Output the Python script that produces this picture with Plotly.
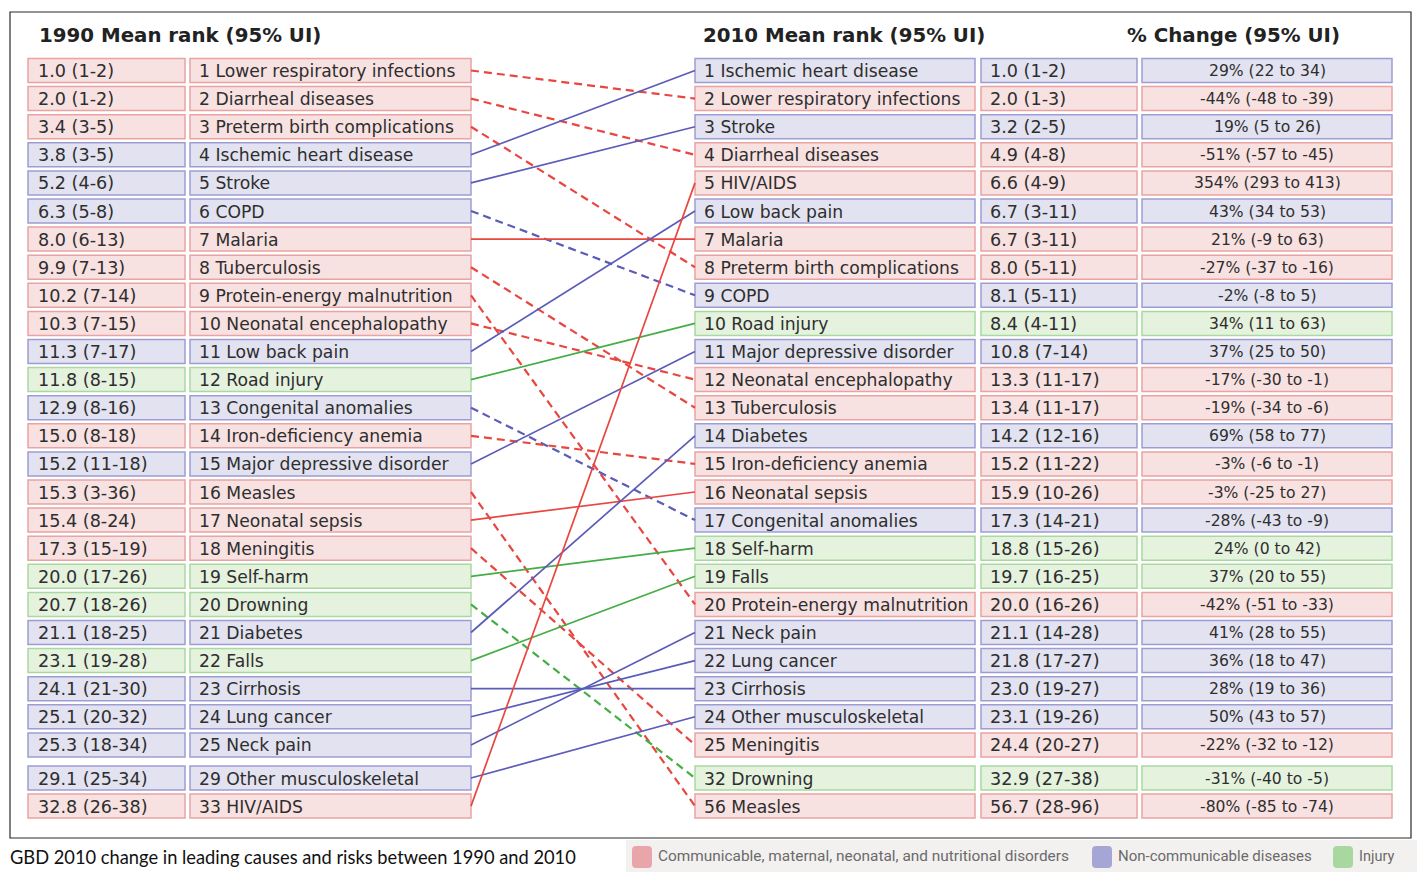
import plotly.graph_objects as go

# ---- data -------------------------------------------------------------
rank_1990 = [1, 2, 3, 4, 5, 6, 7, 8, 9, 10, 11, 12, 13, 14, 15, 16, 17, 18, 19, 20,
             21, 22, 23, 24, 25, 29, 33]
causes_1990 = ["Lower respiratory infections", "Diarrheal diseases", "Preterm birth complications",
               "Ischemic heart disease", "Stroke", "COPD", "Malaria", "Tuberculosis",
               "Protein-energy malnutrition", "Neonatal encephalopathy", "Low back pain",
               "Road injury", "Congenital anomalies", "Iron-deficiency anemia",
               "Major depressive disorder", "Measles", "Neonatal sepsis", "Meningitis",
               "Self-harm", "Drowning", "Diabetes", "Falls", "Cirrhosis", "Lung cancer",
               "Neck pain", "Other musculoskeletal", "HIV/AIDS"]
mean_1990 = [1.0, 2.0, 3.4, 3.8, 5.2, 6.3, 8.0, 9.9, 10.2, 10.3, 11.3, 11.8, 12.9, 15.0, 15.2,
             15.3, 15.4, 17.3, 20.0, 20.7, 21.1, 23.1, 24.1, 25.1, 25.3, 29.1, 32.8]
ui_1990 = ["1-2", "1-2", "3-5", "3-5", "4-6", "5-8", "6-13", "7-13", "7-14", "7-15", "7-17",
           "8-15", "8-16", "8-18", "11-18", "3-36", "8-24", "15-19", "17-26", "18-26", "18-25",
           "19-28", "21-30", "20-32", "18-34", "25-34", "26-38"]

rank_2010 = [1, 2, 3, 4, 5, 6, 7, 8, 9, 10, 11, 12, 13, 14, 15, 16, 17, 18, 19, 20,
             21, 22, 23, 24, 25, 32, 56]
causes_2010 = ["Ischemic heart disease", "Lower respiratory infections", "Stroke",
               "Diarrheal diseases", "HIV/AIDS", "Low back pain", "Malaria",
               "Preterm birth complications", "COPD", "Road injury", "Major depressive disorder",
               "Neonatal encephalopathy", "Tuberculosis", "Diabetes", "Iron-deficiency anemia",
               "Neonatal sepsis", "Congenital anomalies", "Self-harm", "Falls",
               "Protein-energy malnutrition", "Neck pain", "Lung cancer", "Cirrhosis",
               "Other musculoskeletal", "Meningitis", "Drowning", "Measles"]
mean_2010 = [1.0, 2.0, 3.2, 4.9, 6.6, 6.7, 6.7, 8.0, 8.1, 8.4, 10.8, 13.3, 13.4, 14.2, 15.2,
             15.9, 17.3, 18.8, 19.7, 20.0, 21.1, 21.8, 23.0, 23.1, 24.4, 32.9, 56.7]
ui_2010 = ["1-2", "1-3", "2-5", "4-8", "4-9", "3-11", "3-11", "5-11", "5-11", "4-11", "7-14",
           "11-17", "11-17", "12-16", "11-22", "10-26", "14-21", "15-26", "16-25", "16-26",
           "14-28", "17-27", "19-27", "19-26", "20-27", "27-38", "28-96"]
pct_change = [29, -44, 19, -51, 354, 43, 21, -27, -2, 34, 37, -17, -19, 69, -3, -3, -28, 24,
              37, -42, 41, 36, 28, 50, -22, -31, -80]
pct_low = [22, -48, 5, -57, 293, 34, -9, -37, -8, 11, 25, -30, -34, 58, -6, -25, -43, 0, 20,
           -51, 28, 18, 19, 43, -32, -40, -85]
pct_high = [34, -39, 26, -45, 413, 53, 63, -16, 5, 63, 50, -1, -6, 77, -1, 27, -9, 42, 55,
            -33, 55, 47, 36, 57, -12, -5, -74]

communicable = ["Lower respiratory infections", "Diarrheal diseases", "Preterm birth complications",
                "Malaria", "Tuberculosis", "Protein-energy malnutrition", "Neonatal encephalopathy",
                "Iron-deficiency anemia", "Measles", "Neonatal sepsis", "Meningitis", "HIV/AIDS"]
injury = ["Road injury", "Self-harm", "Drowning", "Falls"]

legend_labels = ["Communicable, maternal, neonatal, and nutritional disorders",
                 "Non-communicable diseases", "Injury"]

# ---- styling -----------------------------------------------------------
W, H = 1417, 872
FONT = "DejaVu Sans"
TXT = "#2e2e2e"
STYLE = {
    "C": dict(fill="#f8e1e1", edge="#e9a3a3", line="#e8463f", swatch="#e8a6ab"),
    "N": dict(fill="#e2e2f0", edge="#9d9dd4", line="#5b5bb8", swatch="#a6a6d6"),
    "I": dict(fill="#e4f2de", edge="#a9d9a0", line="#45ad45", swatch="#a8d8a0"),
}


def group_of(name):
    if name in communicable:
        return "C"
    if name in injury:
        return "I"
    return "N"


ROW0, PITCH, BOX_H, TAIL_GAP = 70.5, 28.1, 24, 5


def row_y(slot):
    return ROW0 + PITCH * slot + (TAIL_GAP if slot >= 25 else 0)


# column boxes: left edge, right edge, text x, text anchor, font size
COLS = {
    "m90": (28, 185, 36, "left", 17.6),
    "c90": (190, 471, 197, "left", 17.2),
    "c10": (695, 975, 702, "left", 17.2),
    "m10": (981, 1137, 988, "left", 17.6),
    "pc": (1142, 1392, 1267, "center", 15.6),
}

shapes, annos, traces = [], [], []


def box(col, slot, text, grp):
    x0, x1, tx, anch, fs = COLS[col]
    y = row_y(slot)
    st = STYLE[grp]
    shapes.append(dict(type="rect", xref="x", yref="y", x0=x0, x1=x1,
                       y0=y - BOX_H / 2, y1=y + BOX_H / 2,
                       fillcolor=st["fill"], line=dict(color=st["edge"], width=1.5),
                       layer="below"))
    annos.append(dict(x=tx, y=y + 0.5, xref="x", yref="y", text=text, showarrow=False,
                      xanchor=anch, yanchor="middle",
                      font=dict(family=FONT, size=fs, color=TXT)))


for i, name in enumerate(causes_1990):
    g = group_of(name)
    box("m90", i, f"{mean_1990[i]:.1f} ({ui_1990[i]})", g)
    box("c90", i, f"{rank_1990[i]} {name}", g)

for i, name in enumerate(causes_2010):
    g = group_of(name)
    box("c10", i, f"{rank_2010[i]} {name}", g)
    box("m10", i, f"{mean_2010[i]:.1f} ({ui_2010[i]})", g)
    box("pc", i, f"{pct_change[i]}% ({pct_low[i]} to {pct_high[i]})", g)

# connectors between the two rankings
for i, name in enumerate(causes_1990):
    j = causes_2010.index(name)
    worse = rank_2010[j] > rank_1990[i]
    traces.append(go.Scatter(
        x=[COLS["c90"][1], COLS["c10"][0]], y=[row_y(i), row_y(j)],
        mode="lines", hoverinfo="skip", showlegend=False,
        line=dict(color=STYLE[group_of(name)]["line"], width=2.2 if worse else 1.7,
                  dash="8px,5px" if worse else "solid")))

# column headers
for tx, label in [(37, "1990 Mean rank (95% UI)"), (701, "2010 Mean rank (95% UI)"),
                  (1125, "% Change (95% UI)")]:
    annos.append(dict(x=tx, y=35, xref="x", yref="y", text=f"<b>{label}</b>", showarrow=False,
                      xanchor="left", yanchor="middle",
                      font=dict(family=FONT, size=19.8, color="#222222")))

# frame
shapes.append(dict(type="rect", xref="x", yref="y", x0=10, x1=1411, y0=12, y1=838,
                   line=dict(color="#2a2a2a", width=1.2), fillcolor="rgba(0,0,0,0)",
                   layer="below"))

# caption
annos.append(dict(x=8, y=857, xref="x", yref="y",
                  text="GBD 2010 change in leading causes and risks between 1990 and 2010",
                  showarrow=False, xanchor="left", yanchor="middle",
                  font=dict(family="Lato", size=18.3, color="#111111")))

# legend strip
shapes.append(dict(type="rect", xref="x", yref="y", x0=626, x1=W, y0=840, y1=H,
                   line=dict(width=0), fillcolor="#f3f1ef", layer="below"))
legend_x = [632, 1092, 1333]
legend_fs = [15.4, 15.0, 14.5]
for lx, lab, g, fs in zip(legend_x, legend_labels, ["C", "N", "I"], legend_fs):
    x0, x1, y0, y1, r = lx, lx + 20, 846, 868, 4
    path = (f"M {x0+r},{y0} L {x1-r},{y0} Q {x1},{y0} {x1},{y0+r} L {x1},{y1-r} "
            f"Q {x1},{y1} {x1-r},{y1} L {x0+r},{y1} Q {x0},{y1} {x0},{y1-r} "
            f"L {x0},{y0+r} Q {x0},{y0} {x0+r},{y0} Z")
    shapes.append(dict(type="path", xref="x", yref="y", path=path,
                       fillcolor=STYLE[g]["swatch"], line=dict(width=0)))
    annos.append(dict(x=x1 + 4, y=856, xref="x", yref="y", text=lab, showarrow=False,
                      xanchor="left", yanchor="middle",
                      font=dict(family="Roboto", size=fs, color="#6a6a6a")))

fig = go.Figure(traces)
fig.update_layout(
    width=W, height=H, margin=dict(l=0, r=0, t=0, b=0),
    paper_bgcolor="white", plot_bgcolor="white",
    xaxis=dict(range=[0, W], visible=False, fixedrange=True),
    yaxis=dict(range=[H, 0], visible=False, fixedrange=True),
    shapes=shapes, annotations=annos, showlegend=False,
)
fig.write_html("out.html")
